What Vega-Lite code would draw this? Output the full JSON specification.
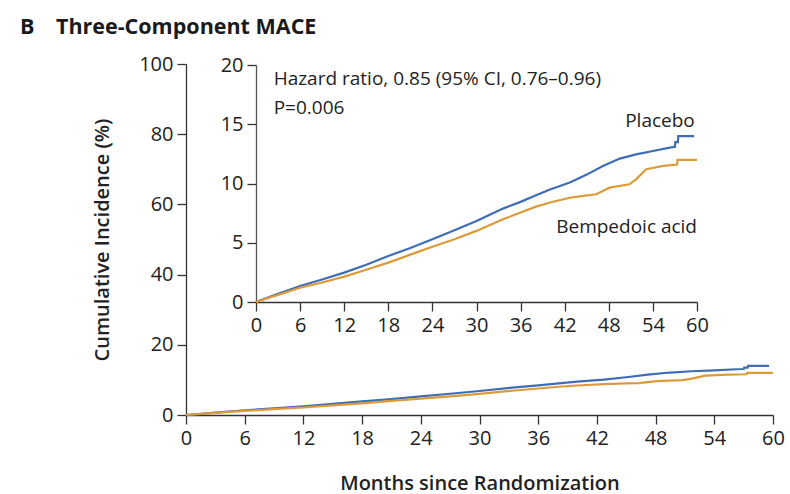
{
  "$schema": "https://vega.github.io/schema/vega-lite/v6.json",
  "width": 587,
  "height": 351,
  "autosize": "none",
  "padding": {"left": 186, "top": 64, "right": 17, "bottom": 79},
  "background": "white",
  "title": {
    "text": "B\u2003Three-Component MACE",
    "anchor": "start",
    "frame": "group",
    "dx": -166,
    "offset": 16,
    "font": "Open Sans",
    "fontSize": 21.5,
    "fontWeight": "bold",
    "color": "#1a1a1a"
  },
  "config": {
    "view": {"stroke": null},
    "font": "Open Sans",
    "axis": {
      "grid": false,
      "domainColor": "#333333",
      "tickColor": "#333333",
      "domainWidth": 1.3,
      "tickWidth": 1.3,
      "tickSize": 9,
      "labelColor": "#222222",
      "labelFont": "Open Sans",
      "labelFontSize": 20,
      "labelPadding": 4,
      "titleFont": "Open Sans",
      "titleFontSize": 20,
      "titleFontWeight": 600,
      "titleColor": "#222222"
    }
  },
  "datasets": {
    "km": [
      {"month": 0, "pct": 0, "group": "Placebo"},
      {"month": 3, "pct": 0.7, "group": "Placebo"},
      {"month": 6, "pct": 1.35, "group": "Placebo"},
      {"month": 9, "pct": 1.9, "group": "Placebo"},
      {"month": 12, "pct": 2.48, "group": "Placebo"},
      {"month": 15, "pct": 3.15, "group": "Placebo"},
      {"month": 18, "pct": 3.88, "group": "Placebo"},
      {"month": 21, "pct": 4.55, "group": "Placebo"},
      {"month": 24, "pct": 5.29, "group": "Placebo"},
      {"month": 27, "pct": 6.05, "group": "Placebo"},
      {"month": 30, "pct": 6.84, "group": "Placebo"},
      {"month": 33.6, "pct": 7.88, "group": "Placebo"},
      {"month": 36, "pct": 8.45, "group": "Placebo"},
      {"month": 38.1, "pct": 9.0, "group": "Placebo"},
      {"month": 40, "pct": 9.5, "group": "Placebo"},
      {"month": 42.7, "pct": 10.08, "group": "Placebo"},
      {"month": 45, "pct": 10.75, "group": "Placebo"},
      {"month": 47.2, "pct": 11.48, "group": "Placebo"},
      {"month": 49.5, "pct": 12.1, "group": "Placebo"},
      {"month": 51.7, "pct": 12.46, "group": "Placebo"},
      {"month": 54, "pct": 12.74, "group": "Placebo"},
      {"month": 56.3, "pct": 13.03, "group": "Placebo"},
      {"month": 57, "pct": 13.1, "group": "Placebo"},
      {"month": 57.05, "pct": 13.5, "group": "Placebo"},
      {"month": 57.4, "pct": 13.5, "group": "Placebo"},
      {"month": 57.45, "pct": 14.0, "group": "Placebo"},
      {"month": 59.6, "pct": 14.0, "group": "Placebo"},
      {"month": 0, "pct": 0, "group": "Bempedoic acid"},
      {"month": 3, "pct": 0.6, "group": "Bempedoic acid"},
      {"month": 6, "pct": 1.2, "group": "Bempedoic acid"},
      {"month": 9, "pct": 1.65, "group": "Bempedoic acid"},
      {"month": 12, "pct": 2.14, "group": "Bempedoic acid"},
      {"month": 15, "pct": 2.72, "group": "Bempedoic acid"},
      {"month": 18, "pct": 3.32, "group": "Bempedoic acid"},
      {"month": 21, "pct": 4.0, "group": "Bempedoic acid"},
      {"month": 24, "pct": 4.67, "group": "Bempedoic acid"},
      {"month": 27, "pct": 5.3, "group": "Bempedoic acid"},
      {"month": 30, "pct": 6.0, "group": "Bempedoic acid"},
      {"month": 33.6, "pct": 6.98, "group": "Bempedoic acid"},
      {"month": 36, "pct": 7.55, "group": "Bempedoic acid"},
      {"month": 38.1, "pct": 8.05, "group": "Bempedoic acid"},
      {"month": 40, "pct": 8.4, "group": "Bempedoic acid"},
      {"month": 42.7, "pct": 8.8, "group": "Bempedoic acid"},
      {"month": 45, "pct": 9.0, "group": "Bempedoic acid"},
      {"month": 46.3, "pct": 9.09, "group": "Bempedoic acid"},
      {"month": 48.1, "pct": 9.65, "group": "Bempedoic acid"},
      {"month": 50.8, "pct": 9.93, "group": "Bempedoic acid"},
      {"month": 51.7, "pct": 10.35, "group": "Bempedoic acid"},
      {"month": 53.1, "pct": 11.2, "group": "Bempedoic acid"},
      {"month": 55.4, "pct": 11.48, "group": "Bempedoic acid"},
      {"month": 57.3, "pct": 11.6, "group": "Bempedoic acid"},
      {"month": 57.35, "pct": 12.0, "group": "Bempedoic acid"},
      {"month": 60, "pct": 12.0, "group": "Bempedoic acid"}
    ]
  },
  "layer": [
    {
      "data": {"name": "km"},
      "mark": {"type": "line", "strokeWidth": 2.2, "interpolate": "linear"},
      "encoding": {
        "x": {
          "field": "month",
          "type": "quantitative",
          "scale": {"domain": [0, 60], "nice": false},
          "axis": {
            "values": [0, 6, 12, 18, 24, 30, 36, 42, 48, 54, 60],
            "title": "Months since Randomization",
            "titlePadding": 25,
            "labelFlush": false
          }
        },
        "y": {
          "field": "pct",
          "type": "quantitative",
          "scale": {"domain": [0, 100], "nice": false},
          "axis": {
            "values": [0, 20, 40, 60, 80, 100],
            "title": "Cumulative Incidence (%)",
            "titlePadding": 26,
            "labelFlush": false
          }
        },
        "color": {
          "field": "group",
          "type": "nominal",
          "scale": {"domain": ["Placebo", "Bempedoic acid"], "range": ["#3f6db5", "#dc9b38"]},
          "legend": null
        }
      }
    },
    {
      "layer": [
        {
          "data": {"name": "km"},
          "mark": {"type": "line", "strokeWidth": 2.2, "interpolate": "linear"},
          "encoding": {
            "x": {
              "field": "month",
              "type": "quantitative",
              "scale": {"domain": [0, 60], "nice": false, "range": [70, 511]},
              "axis": {
                "orient": "bottom",
                "offset": -113,
                "values": [0, 6, 12, 18, 24, 30, 36, 42, 48, 54, 60],
                "title": null,
                "labelFlush": false
              }
            },
            "y": {
              "field": "pct",
              "type": "quantitative",
              "scale": {"domain": [0, 20], "nice": false, "range": [238, 1]},
              "axis": {
                "orient": "left",
                "offset": -70,
                "values": [0, 5, 10, 15, 20],
                "title": null,
                "labelFlush": false,
                "domainColor": "#555555"
              }
            },
            "color": {
              "field": "group",
              "type": "nominal",
              "scale": {"domain": ["Placebo", "Bempedoic acid"], "range": ["#3f6db5", "#dc9b38"]},
              "legend": null
            }
          }
        },
        {
          "data": {"values": [{}]},
          "mark": {"type": "text", "align": "left", "baseline": "middle", "fontSize": 19, "font": "Open Sans", "color": "#222222"},
          "encoding": {
            "x": {"datum": 2.4, "type": "quantitative"},
            "y": {"datum": 18.8, "type": "quantitative"},
            "text": {"value": "Hazard ratio, 0.85 (95% CI, 0.76–0.96)"}
          }
        },
        {
          "data": {"values": [{}]},
          "mark": {"type": "text", "align": "left", "baseline": "middle", "fontSize": 19, "font": "Open Sans", "color": "#222222"},
          "encoding": {
            "x": {"datum": 2.4, "type": "quantitative"},
            "y": {"datum": 16.4, "type": "quantitative"},
            "text": {"value": "P=0.006"}
          }
        },
        {
          "data": {"values": [{}]},
          "mark": {"type": "text", "align": "right", "baseline": "middle", "fontSize": 19, "font": "Open Sans", "color": "#222222"},
          "encoding": {
            "x": {"datum": 59.7, "type": "quantitative"},
            "y": {"datum": 15.3, "type": "quantitative"},
            "text": {"value": "Placebo"}
          }
        },
        {
          "data": {"values": [{}]},
          "mark": {"type": "text", "align": "right", "baseline": "middle", "fontSize": 19, "font": "Open Sans", "color": "#222222"},
          "encoding": {
            "x": {"datum": 60, "type": "quantitative"},
            "y": {"datum": 6.3, "type": "quantitative"},
            "text": {"value": "Bempedoic acid"}
          }
        }
      ]
    }
  ],
  "resolve": {
    "scale": {"x": "independent", "y": "independent"},
    "axis": {"x": "independent", "y": "independent"}
  }
}
